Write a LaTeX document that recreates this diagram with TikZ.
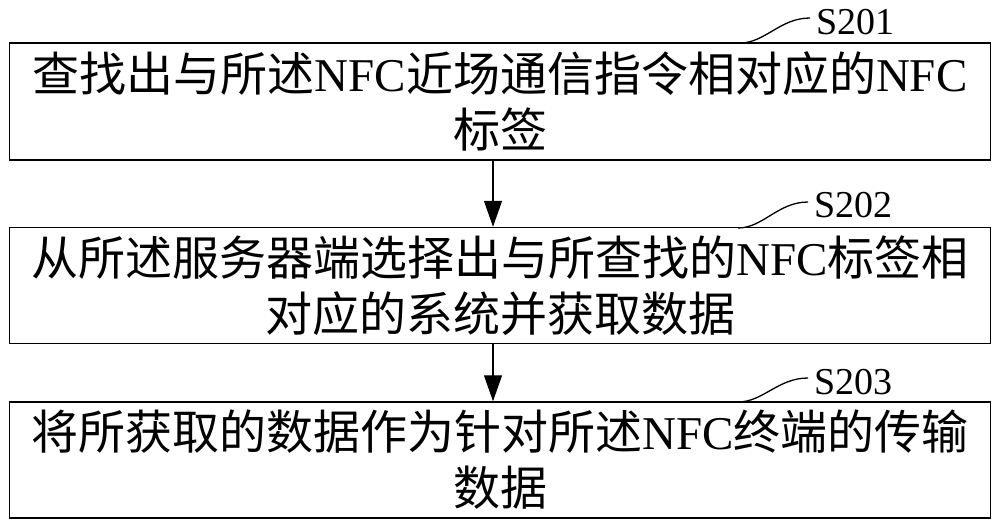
\documentclass[tikz,border=0pt]{standalone}
\usepackage{fontspec}
\setmainfont{Liberation Serif}
\newfontfamily\cjk{Noto Sans CJK SC}
\usetikzlibrary{arrows.meta}
\begin{document}
\begin{tikzpicture}[x=1pt,y=-1pt,
  box/.style={draw,line width=1.5pt,minimum width=981pt,inner sep=0pt,align=center,font=\fontsize{47}{56}\selectfont},
  lbl/.style={font=\fontsize{38}{40}\selectfont,anchor=west,inner sep=0pt},
  lead/.style={line width=1.3pt},
  arr/.style={line width=1.3pt,-{Triangle[length=26pt,width=18pt]}}]
\useasboundingbox (0,0) rectangle (1000,525);
\node[box,minimum height=117pt] (b1) at (500,101.5) {{\cjk 查找出与所述}NFC{\cjk 近场通信指令相对应的}NFC\\{\cjk 标签}};
\node[box,minimum height=116pt] (b2) at (500,285.5) {{\cjk 从所述服务器端选择出与所查找的}NFC{\cjk 标签相}\\{\cjk 对应的系统并获取数据}};
\node[box,minimum height=116pt] (b3) at (500,460) {{\cjk 将所获取的数据作为针对所述}NFC{\cjk 终端的传输}\\{\cjk 数据}};
\node[lbl] (s1) at (816,22) {S201};
\node[lbl] (s2) at (814,205) {S202};
\node[lbl] (s3) at (814,382) {S203};
\coordinate (c1) at (740,43);
\coordinate (c2) at (738,228);
\coordinate (c3) at (738,402);
\draw[lead] (c1) .. controls (765,43) and (780,18) .. (810,18);
\draw[lead] (c2) .. controls (763,228) and (778,202) .. (808,202);
\draw[lead] (c3) .. controls (763,402) and (778,378) .. (808,378);
\draw[arr] (b1.south -| 493,0) -- (b2.north -| 493,0);
\draw[arr] (b2.south -| 493,0) -- (b3.north -| 493,0);
\end{tikzpicture}
\end{document}
